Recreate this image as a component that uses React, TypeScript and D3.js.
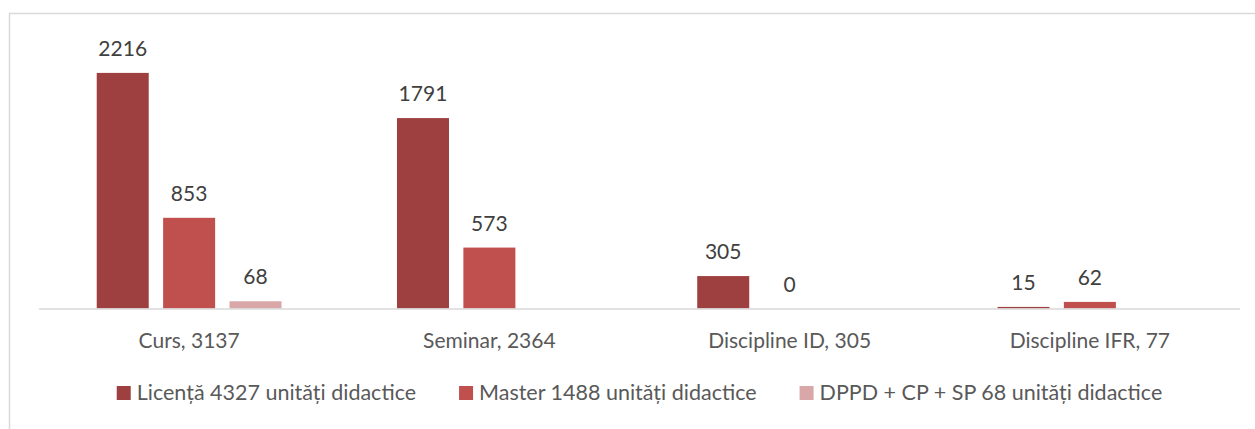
import React, { useEffect, useRef } from "react";
import * as d3 from "d3";

// categories on the x axis
const categories = ["Curs, 3137", "Seminar, 2364", "Discipline ID, 305", "Discipline IFR, 77"];
// series (null = no bar, no label)
const seriesNames = [
  "Licență 4327 unități didactice",
  "Master 1488 unități didactice",
  "DPPD + CP + SP 68 unități didactice",
];
const licenta = [2216, 1791, 305, 15];
const master = [853, 573, 0, 62];
const dppd: (number | null)[] = [68, null, null, null];
const colors = ["#9E403F", "#C0504D", "#D9A7A7"];

const W = 1255;
const H = 429;
const FONT = "Lato, 'Open Sans', sans-serif";

const App = () => {
  const svgRef = useRef<SVGSVGElement>(null);

  useEffect(() => {
    const svg = d3.select(svgRef.current);
    svg.selectAll("*").remove();

    // chart frame (only top/left visible inside the picture)
    svg
      .append("rect")
      .attr("x", 9.5)
      .attr("y", 13.5)
      .attr("width", W + 20)
      .attr("height", H + 20)
      .attr("fill", "#fff")
      .attr("stroke", "#D9D9D9")
      .attr("stroke-width", 1.5);

    const left = 39;
    const right = 1240;
    const base = 308.5;

    const x = d3.scaleBand().domain(categories).range([left, right]).paddingInner(0).paddingOuter(0);
    const y = d3.scaleLinear().domain([0, 2500]).range([base, base - 265.8]);

    const series = [licenta, master, dppd];
    const barW = 52;
    const barStep = 66.4;

    const g = svg.append("g");

    series.forEach((vals, si) => {
      const pts = categories
        .map((c, i) => ({ c, v: vals[i] }))
        .filter((d) => d.v !== null) as { c: string; v: number }[];
      const cx = (c: string) => (x(c) as number) + x.bandwidth() / 2 + (si - 1) * barStep;

      g.selectAll(null)
        .data(pts)
        .join("rect")
        .attr("x", (d) => cx(d.c) - barW / 2)
        .attr("y", (d) => y(d.v))
        .attr("width", barW)
        .attr("height", (d) => base - y(d.v))
        .attr("fill", colors[si]);

      g.selectAll(null)
        .data(pts)
        .join("text")
        .attr("x", (d) => cx(d.c))
        .attr("y", (d) => y(d.v) - 17)
        .attr("text-anchor", "middle")
        .attr("font-family", FONT)
        .attr("font-size", 21)
        .attr("fill", "#404040")
        .text((d) => d.v);
    });

    // axis line
    svg
      .append("line")
      .attr("x1", left)
      .attr("x2", right)
      .attr("y1", base + 0.5)
      .attr("y2", base + 0.5)
      .attr("stroke", "#D9D9D9")
      .attr("stroke-width", 1.5);

    // category labels
    svg
      .append("g")
      .selectAll("text")
      .data(categories)
      .join("text")
      .attr("x", (d) => (x(d) as number) + x.bandwidth() / 2)
      .attr("y", 348)
      .attr("text-anchor", "middle")
      .attr("font-family", FONT)
      .attr("font-size", 21)
      .attr("fill", "#595959")
      .text((d) => d);

    // legend
    const lg = svg.append("g");
    const items = lg
      .selectAll("g")
      .data(seriesNames)
      .join("g");
    items
      .append("rect")
      .attr("width", 14)
      .attr("height", 14)
      .attr("y", 386)
      .attr("fill", (d, i) => colors[i]);
    items
      .append("text")
      .attr("x", 20)
      .attr("y", 400)
      .attr("font-family", FONT)
      .attr("font-size", 21.5)
      .attr("fill", "#595959")
      .text((d) => d);

    const widths: number[] = [];
    items.select("text").each(function () {
      widths.push(20 + (this as SVGTextElement).getComputedTextLength());
    });
    const gap = 43;
    const total = d3.sum(widths) + gap * (widths.length - 1);
    let pos = (left + right) / 2 - total / 2;
    items.attr("transform", (d, i) => {
      const t = `translate(${pos},0)`;
      pos += widths[i] + gap;
      return t;
    });
  }, []);

  return (
    <svg
      ref={svgRef}
      width={W}
      height={H}
      style={{ position: "absolute", left: 0, top: 0, background: "#fff" }}
    />
  );
};

export default App;
